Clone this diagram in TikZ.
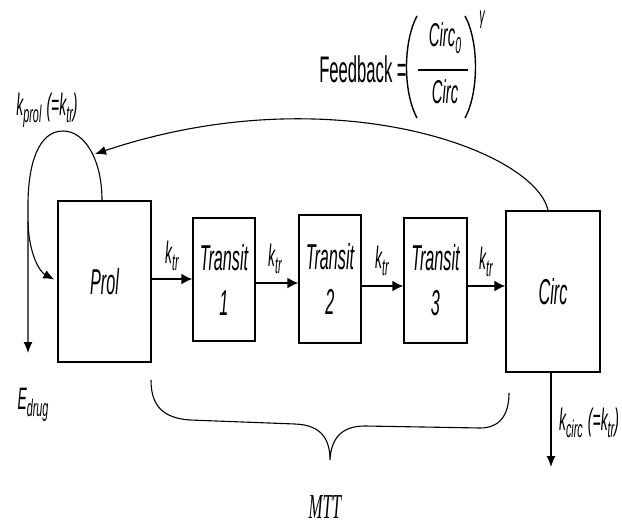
\documentclass[tikz,border=0pt]{standalone}
\usepackage{fontspec}
\setmainfont{Liberation Sans}[FakeStretch=0.45]
\newfontfamily\serifn{Liberation Serif}[FakeStretch=0.48]
\usetikzlibrary{arrows.meta}
\newcommand\fs[1]{\fontsize{#1}{#1}\selectfont}
\newcommand\lsub[1]{\raisebox{-7pt}{\fs{24}\itshape #1}}
\tikzset{
  box/.style={draw, line width=1.3pt, inner sep=0pt, align=center,
    font=\fontsize{36}{45}\selectfont\itshape},
  harrow/.style={line width=1.8pt, -{Latex[length=11pt,width=11pt]}},
  thinarrow/.style={line width=1.1pt, -{Latex[length=11pt,width=9pt]}},
  curve/.style={line width=1.1pt},
  lbl/.style={inner sep=0pt, font=\fs{31}},
}
\begin{document}
\begin{tikzpicture}[x=1pt,y=-1pt]
\path[use as bounding box] (0,0) rectangle (622,525);

% boxes
\node[box, minimum width=93, minimum height=161] (prol) at (104.5,281.5) {Prol};
\node[box, minimum width=62, minimum height=123] (t1) at (224,279.5) {Transit\\1};
\node[box, minimum width=62, minimum height=128] (t2) at (330,279) {Transit\\2};
\node[box, minimum width=63, minimum height=125] (t3) at (435.5,280.5) {Transit\\3};
\node[box, minimum width=94, minimum height=161] (circ) at (553,291.5) {Circ};

% transit arrows
\draw[harrow] (prol.east |- 0,279) -- (t1.west |- 0,279);
\draw[harrow] (t1.east |- 0,283) -- (t2.west |- 0,283);
\draw[harrow] (t2.east |- 0,286) -- (t3.west |- 0,286);
\draw[harrow] (t3.east |- 0,286) -- (circ.west |- 0,286);

\node[lbl] (k1) at (172,256) {\itshape k\lsub{tr}};
\node[lbl] (k2) at (275,259) {\itshape k\lsub{tr}};
\node[lbl] (k3) at (382,261) {\itshape k\lsub{tr}};
\node[lbl] (k4) at (486,262) {\itshape k\lsub{tr}};

% proliferation loop
\coordinate (edrugend) at (28,353);
\coordinate (branch) at (28,222);
\draw[thinarrow] ([xshift=-2.5pt]prol.north) .. controls (102,160) and (85,131) .. (63,131)
  .. controls (38,131) and (28,165) .. (28,205) -- (edrugend);
\draw[thinarrow] (branch) .. controls (29,255) and (40,272) .. ([xshift=-3pt,yshift=2pt]prol.west);
\node[lbl] (kprol) at (47,110) {\itshape k\lsub{prol}\,(=\textit{k}\lsub{tr})};
\node[lbl] (edrug) at (33,405) {\itshape E\lsub{drug}};

% feedback
\coordinate (fbend) at (95,154);
\draw[thinarrow] ([xshift=-5pt]circ.north) .. controls (535,150) and (330,75) .. (fbend);
\node[lbl, font=\fs{37}] (fbtext) at (363,69) {Feedback =};
\node[lbl, font=\fs{33}] (num) at (445,38) {\itshape Circ\raisebox{-7pt}{\fs{23}0}};
\node[lbl, font=\fs{33}] (den) at (445,92) {\itshape Circ};
\draw[line width=1.3pt] (418,70) -- (468,70);
\draw[line width=1.4pt] (417,16) .. controls (403,42) and (403,92) .. (417,118);
\draw[line width=1.4pt] (465,16) .. controls (479,42) and (479,92) .. (465,118);
\node[lbl, font=\fs{24}] (gamma) at (482,20) {\itshape γ};

% circ elimination
\coordinate (kcircend) at (551,467);
\draw[thinarrow] ([xshift=-2pt]circ.south) -- (kcircend);
\node[lbl] (kcirc) at (589,423) {\itshape k\lsub{circ}\,(=\textit{k}\lsub{tr})};

% brace
\draw[curve] (151,380) .. controls (151,405) and (162,418) .. (190,420)
  -- (295,424) .. controls (322,425) and (330,440) .. (330,460)
  .. controls (331,440) and (340,426) .. (365,426)
  -- (480,428) .. controls (502,428) and (509,412) .. (509,393);
\node[inner sep=0pt, font=\serifn\itshape\fs{35}] (mtt) at (325,507) {MTT};
\end{tikzpicture}
\end{document}
